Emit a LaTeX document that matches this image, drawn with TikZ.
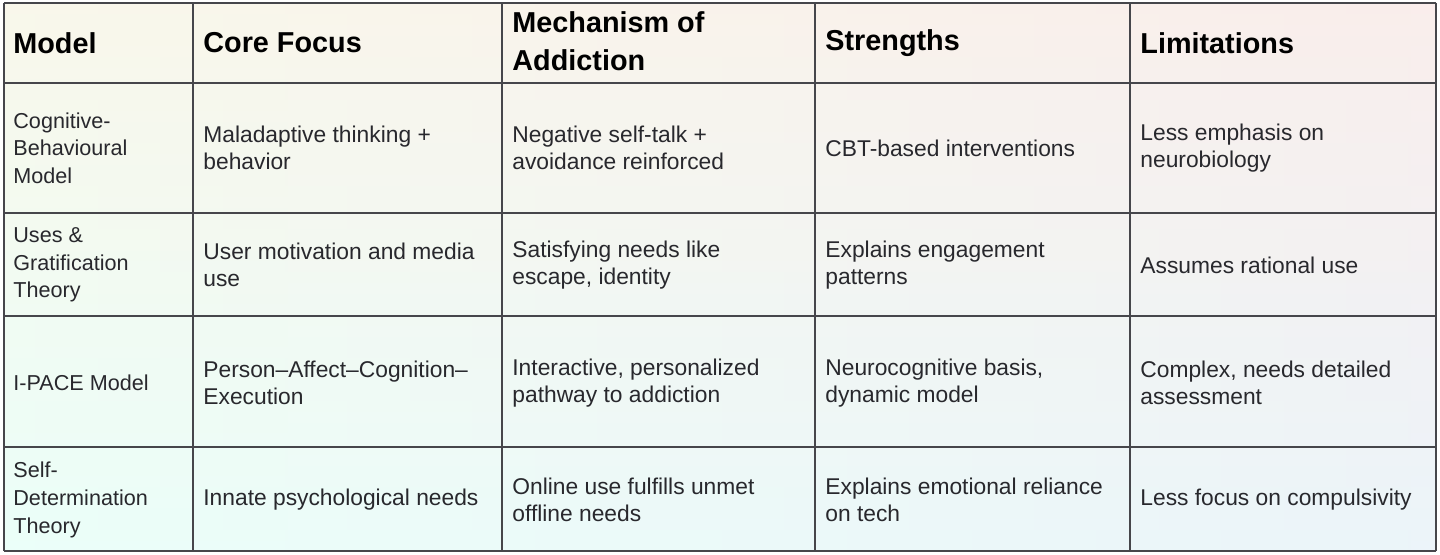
\documentclass[tikz,border=0pt]{standalone}
\usepackage{fontspec}
\setmainfont{Liberation Sans}
\definecolor{gridgray}{RGB}{70,70,75}
\definecolor{bodytext}{RGB}{40,40,45}
\begin{document}
\begin{tikzpicture}[x=0.5pt,y=-0.5pt,
  head/.style={anchor=west,align=left,font=\fontsize{14.4}{19}\selectfont\bfseries,text=black,inner sep=0pt},
  cell/.style={anchor=west,align=left,font=\fontsize{11.4}{13.8}\selectfont,text=bodytext,inner sep=0pt},
  side/.style={cell,font=\fontsize{10.8}{13.8}\selectfont},
  rule/.style={gridgray,line width=1pt}]

\useasboundingbox (0,0) rectangle (1440,555);

% background wash
\shade[left color=green!5!white, right color=violet!9!white] (4,3) rectangle (1436,551);
\shade[top color=orange!10!white, bottom color=cyan!10!white, opacity=0.55] (4,3) rectangle (1436,551);

% grid
\foreach \gx in {4,193,502,815,1130,1436}
  \draw[rule] (\gx,3) -- (\gx,551);
\foreach \gy in {3,83,213,316,447,551}
  \draw[rule] (4,\gy) -- (1436,\gy);

% header
\node[head] (hModel) at (13,43) {Model};
\node[head] (hFocus) at (203,43) {Core Focus};
\node[head] (hMech) at (512,41) {Mechanism of\\Addiction};
\node[head] (hStr) at (825,43) {Strengths};
\node[head] (hLim) at (1140,43) {Limitations};

% rows
\node[side] (m1) at (13,148) {Cognitive-\\Behavioural\\Model};
\node[cell] (f1) at (203,148) {Maladaptive thinking +\\behavior};
\node[cell] (a1) at (512,148) {Negative self-talk +\\avoidance reinforced};
\node[cell] (s1) at (825,148) {CBT-based interventions};
\node[cell] (l1) at (1140,148) {Less emphasis on\\neurobiology};

\node[side] (m2) at (13,265) {Uses \&\\Gratification\\Theory};
\node[cell] (f2) at (203,265) {User motivation and media\\use};
\node[cell] (a2) at (512,265) {Satisfying needs like\\escape, identity};
\node[cell] (s2) at (825,265) {Explains engagement\\patterns};
\node[cell] (l2) at (1140,265) {Assumes rational use};

\node[side] (m3) at (13,383) {I-PACE Model};
\node[cell] (f3) at (203,383) {Person–Affect–Cognition–\\Execution};
\node[cell] (a3) at (512,383) {Interactive, personalized\\pathway to addiction};
\node[cell] (s3) at (825,383) {Neurocognitive basis,\\dynamic model};
\node[cell] (l3) at (1140,383) {Complex, needs detailed\\assessment};

\node[side] (m4) at (13,500) {Self-\\Determination\\Theory};
\node[cell] (f4) at (203,500) {Innate psychological needs};
\node[cell] (a4) at (512,500) {Online use fulfills unmet\\offline needs};
\node[cell] (s4) at (825,500) {Explains emotional reliance\\on tech};
\node[cell] (l4) at (1140,500) {Less focus on compulsivity};

\end{tikzpicture}
\end{document}
